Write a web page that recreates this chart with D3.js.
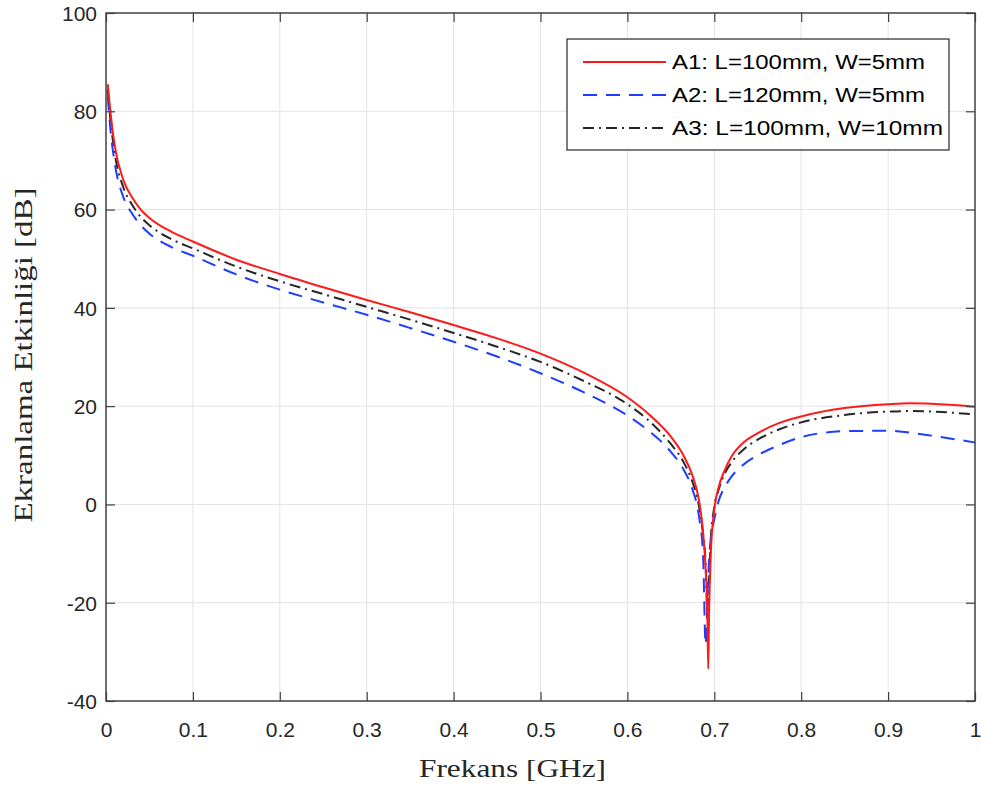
<!DOCTYPE html>
<html>
<head>
<meta charset="utf-8">
<script src="https://cdn.jsdelivr.net/npm/d3@7"></script>
<style>
  body { margin: 0; background: #fff; }
  .tick-label { font-family: "Liberation Sans", Arial, sans-serif; font-size: 21px; fill: #262626; }
  .axis-title { font-family: "Liberation Serif", "Times New Roman", serif; font-size: 26px; fill: #262626; }
  .legend-text { font-family: "Liberation Sans", Arial, sans-serif; font-size: 20px; fill: #000; }
</style>
</head>
<body>
<svg id="chart"></svg>
<script>
// frequency points [GHz]
const freq = [0.002, 0.005, 0.01, 0.02, 0.03, 0.04, 0.05, 0.075, 0.1, 0.15, 0.2, 0.25, 0.3, 0.35, 0.4, 0.45, 0.5, 0.55, 0.6, 0.625, 0.65, 0.665, 0.675, 0.682, 0.687, 0.690, 0.692, 0.693, 0.694, 0.696, 0.700, 0.705, 0.712, 0.72, 0.735, 0.75, 0.775, 0.8, 0.85, 0.9, 0.925, 0.95, 1.0];

// shielding effectiveness [dB]
const seA1 = [85.5, 80, 73, 66, 62.5, 60, 58.3, 55.5, 53.5, 49.8, 46.9, 44.2, 41.6, 39.1, 36.5, 33.8, 30.7, 26.8, 21.8, 18.3, 13.8, 9.8, 5.8, 1.2, -5.5, -13, -22, -33.5, -22, -10, -1, 3.5, 7, 9.8, 12.8, 14.5, 16.6, 17.9, 19.6, 20.4, 20.6, 20.5, 19.9];
const seA2 = [83, 76.5, 69.5, 62.5, 59.2, 56.8, 55.1, 52.4, 50.6, 46.8, 43.7, 41.1, 38.6, 35.9, 33.1, 30.1, 26.7, 22.8, 18.1, 14.9, 10.7, 7.0, 3.0, -2, -10, -28.5, -20, -15, -11, -7, -3, 0.7, 3.5, 5.7, 8.3, 10.0, 12.1, 13.7, 14.9, 15.0, 14.6, 14.0, 12.6];
const seA3 = [84.5, 78.5, 71.5, 64.5, 61, 58.5, 56.8, 54, 52.1, 48.4, 45.4, 42.8, 40.2, 37.6, 34.9, 32.1, 29.0, 25.1, 20.4, 17.0, 12.3, 8.5, 4.5, 0, -6, -12, -22, -18, -15, -7, -0.5, 3, 6.3, 8.6, 11.4, 13.2, 15.3, 16.7, 18.2, 18.9, 19.0, 18.9, 18.3];

const seriesNames = ['A1: L=100mm, W=5mm', 'A2: L=120mm, W=5mm', 'A3: L=100mm, W=10mm'];
const xTicks = [0, 0.1, 0.2, 0.3, 0.4, 0.5, 0.6, 0.7, 0.8, 0.9, 1];
const yTicks = [-40, -20, 0, 20, 40, 60, 80, 100];

class SEChart {
    constructor(_config) {
        this.config = {
            parentElement: _config.parentElement,
            containerWidth: 981,
            containerHeight: 787,
            margin: {top: 13, right: 6, bottom: 86, left: 106}
        }
        this.initVis();
    }

    initVis() {
        let vis = this;
        vis.width = vis.config.containerWidth - vis.config.margin.left - vis.config.margin.right;
        vis.height = vis.config.containerHeight - vis.config.margin.top - vis.config.margin.bottom;

        vis.svg = d3.select(vis.config.parentElement)
            .attr('width', vis.config.containerWidth)
            .attr('height', vis.config.containerHeight);

        vis.chart = vis.svg.append('g')
            .attr('transform', `translate(${vis.config.margin.left}, ${vis.config.margin.top})`);

        vis.xScale = d3.scaleLinear().domain([0, 1]).range([0, vis.width]);
        vis.yScale = d3.scaleLinear().domain([-40, 100]).range([vis.height, 0]);

        vis.series = [
            {name: seriesNames[0], values: seA1, color: '#ff1a1a', dash: null},
            {name: seriesNames[1], values: seA2, color: '#1f3dff', dash: '14,9'},
            {name: seriesNames[2], values: seA3, color: '#262626', dash: '11,5,2,5'}
        ];

        vis.renderVis();
    }

    renderVis() {
        let vis = this;

        // grid
        vis.chart.append('g').selectAll('line')
            .data(xTicks.slice(1, -1))
            .join('line')
            .attr('x1', d => vis.xScale(d)).attr('x2', d => vis.xScale(d))
            .attr('y1', 0).attr('y2', vis.height)
            .attr('stroke', '#e3e3e3').attr('stroke-width', 1);
        vis.chart.append('g').selectAll('line')
            .data(yTicks.slice(1, -1))
            .join('line')
            .attr('x1', 0).attr('x2', vis.width)
            .attr('y1', d => vis.yScale(d)).attr('y2', d => vis.yScale(d))
            .attr('stroke', '#e3e3e3').attr('stroke-width', 1);

        // curves
        vis.chart.append('defs').append('clipPath').attr('id', 'clip')
            .append('rect').attr('width', vis.width).attr('height', vis.height);

        const line = d3.line()
            .x((d, i) => vis.xScale(freq[i]))
            .y(d => vis.yScale(d))
            .curve(d3.curveMonotoneX);

        vis.chart.append('g').attr('clip-path', 'url(#clip)')
            .selectAll('path')
            .data(vis.series.slice().reverse())
            .join('path')
            .attr('d', d => line(d.values))
            .attr('fill', 'none')
            .attr('stroke', d => d.color)
            .attr('stroke-width', 2)
            .attr('stroke-dasharray', d => d.dash);

        // axes box with inward ticks
        const tickLen = 9;
        const axisColor = '#404040';
        vis.chart.append('g')
            .attr('transform', `translate(0, ${vis.height})`)
            .call(d3.axisBottom(vis.xScale).tickValues(xTicks).tickSizeInner(-tickLen).tickSizeOuter(0).tickFormat(d => String(d)))
            .call(g => g.selectAll('text').attr('class', 'tick-label').attr('dy', '0.71em').attr('y', 21));
        vis.chart.append('g')
            .call(d3.axisTop(vis.xScale).tickValues(xTicks).tickSizeInner(-tickLen).tickSizeOuter(0))
            .call(g => g.selectAll('text').remove());
        vis.chart.append('g')
            .call(d3.axisLeft(vis.yScale).tickValues(yTicks).tickSizeInner(-tickLen).tickSizeOuter(0).tickFormat(d => String(d)))
            .call(g => g.selectAll('text').attr('class', 'tick-label').attr('x', -9).attr('dy', '0.35em'));
        vis.chart.append('g')
            .attr('transform', `translate(${vis.width}, 0)`)
            .call(d3.axisRight(vis.yScale).tickValues(yTicks).tickSizeInner(-tickLen).tickSizeOuter(0))
            .call(g => g.selectAll('text').remove());
        vis.chart.selectAll('.domain').remove();
        vis.chart.selectAll('.tick line').attr('stroke', axisColor).attr('stroke-width', 1.2);
        vis.chart.selectAll('.tick text').attr('fill', '#262626');
        vis.svg.selectAll('g[font-family]').attr('font-family', null).attr('font-size', null);

        vis.chart.append('rect')
            .attr('width', vis.width).attr('height', vis.height)
            .attr('fill', 'none').attr('stroke', axisColor).attr('stroke-width', 1.5);

        // axis titles
        vis.chart.append('text')
            .attr('class', 'axis-title')
            .attr('x', vis.width / 2 - 28).attr('y', vis.height + 76)
            .attr('text-anchor', 'middle')
            .attr('textLength', 187).attr('lengthAdjust', 'spacingAndGlyphs')
            .text('Frekans [GHz]');
        vis.chart.append('text')
            .attr('class', 'axis-title')
            .attr('transform', `translate(${-106 + 32}, ${355 - 13}) rotate(-90)`)
            .attr('text-anchor', 'middle')
            .attr('textLength', 335).attr('lengthAdjust', 'spacingAndGlyphs')
            .text('Ekranlama Etkinliği [dB]');

        // legend
        const lg = vis.svg.append('g').attr('transform', 'translate(567, 39)');
        lg.append('rect').attr('width', 382).attr('height', 111)
            .attr('fill', '#fff').attr('stroke', '#262626').attr('stroke-width', 1.2);
        const rows = lg.selectAll('g.row')
            .data(vis.series)
            .join('g').attr('class', 'row')
            .attr('transform', (d, i) => `translate(0, ${23 + i * 33})`);
        rows.append('line')
            .attr('x1', 16).attr('x2', 99)
            .attr('stroke', d => d.color).attr('stroke-width', 2)
            .attr('stroke-dasharray', d => d.dash);
        rows.append('text')
            .attr('class', 'legend-text')
            .attr('x', 105).attr('dy', '0.35em')
            .attr('textLength', (d, i) => [253, 253, 271][i]).attr('lengthAdjust', 'spacingAndGlyphs')
            .text(d => d.name);
    }
}

new SEChart({parentElement: '#chart'});
</script>
</body>
</html>
